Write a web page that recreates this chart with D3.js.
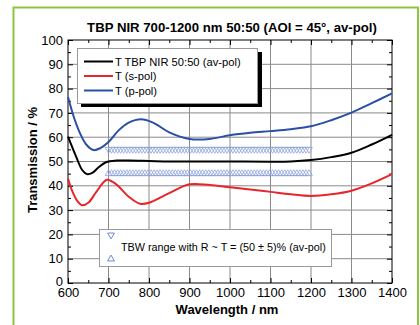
<!DOCTYPE html>
<html>
<head>
<meta charset="utf-8">
<script src="https://cdn.jsdelivr.net/npm/d3@7"></script>
<style>
  body { margin: 0; background: #fff; }
  text { font-family: "Liberation Sans", Arial, sans-serif; }
</style>
</head>
<body>
<svg width="420" height="325"></svg>
<script>
// wavelengths (nm) and transmission values (%)
const avWl  = [600, 620, 635, 647, 660, 675, 695, 720, 750, 800, 850, 900, 1000, 1100, 1150, 1200, 1250, 1300, 1350, 1400];
const avT   = [60.2, 52, 46.5, 44.8, 45.3, 47.5, 49.8, 50.4, 50.4, 50.2, 50, 50, 50, 49.9, 50, 50.6, 51.8, 53.6, 57, 61];

const sWl   = [600, 610, 622, 635, 650, 670, 696, 720, 750, 778, 800, 850, 900, 950, 1000, 1050, 1100, 1150, 1200, 1250, 1300, 1350, 1400];
const sT    = [43, 38, 34, 32, 33, 37.5, 42.5, 40.5, 35.5, 32.6, 33, 37, 40.6, 40.3, 39.4, 38.5, 37.5, 36.5, 35.8, 36.5, 38, 41, 44.8];

const pWl   = [600, 615, 630, 645, 663, 680, 700, 725, 750, 780, 810, 850, 900, 950, 1000, 1050, 1100, 1150, 1200, 1250, 1300, 1350, 1400];
const pT    = [76.5, 68, 61.5, 57, 54.7, 55.5, 58, 62.8, 66, 67.4, 66, 62, 59.3, 59.3, 60.8, 61.8, 62.5, 63.3, 64.5, 67, 70.1, 74, 78];

// TBW band: R ~ T = (50 +/- 5)% between 700 and 1200 nm
const bandRange = [700, 1200];
const bandUpper = 55;
const bandLower = 45;

const xTicks = [600, 700, 800, 900, 1000, 1100, 1200, 1300, 1400];
const yTicks = [0, 10, 20, 30, 40, 50, 60, 70, 80, 90, 100];

const legendNames = ['T TBP NIR 50:50 (av-pol)', 'T (s-pol)', 'T (p-pol)'];
const legendColors = ['#000000', '#e8252b', '#2b4ea6'];

const svg = d3.select('svg');

// outer green frame
svg.append('rect')
    .attr('x', 13.5).attr('y', 7.5)
    .attr('width', 404.5).attr('height', 340)
    .attr('fill', 'none')
    .attr('stroke', '#8cc63e')
    .attr('stroke-width', 2);

const m = {left: 68, right: 392, top: 40, bottom: 283};
const x = d3.scaleLinear().domain([600, 1400]).range([m.left, m.right]);
const y = d3.scaleLinear().domain([0, 100]).range([m.bottom, m.top]);

const g = svg.append('g');

// grid
g.selectAll('.vgrid')
    .data(xTicks.slice(1, -1))
    .enter().append('line')
    .attr('x1', d => x(d)).attr('x2', d => x(d))
    .attr('y1', m.top).attr('y2', m.bottom)
    .attr('stroke', '#8a8a8a').attr('stroke-width', 1);
g.selectAll('.hgrid')
    .data(yTicks.slice(1, -1))
    .enter().append('line')
    .attr('x1', m.left).attr('x2', m.right)
    .attr('y1', d => y(d)).attr('y2', d => y(d))
    .attr('stroke', '#8a8a8a').attr('stroke-width', 1);

// axes with inward ticks on all four sides
const xMinor = d3.range(650, 1400, 100);
const yMinor = d3.range(5, 100, 10);

function addAxis(axis, tf) {
    const a = g.append('g').attr('transform', tf).call(axis);
    a.select('.domain').remove();
    a.selectAll('line').attr('stroke', '#000');
    return a;
}
const bottom = addAxis(d3.axisBottom(x).tickValues(xTicks).tickSizeInner(-5).tickSizeOuter(0).tickFormat(d3.format('d')), `translate(0,${m.bottom})`);
bottom.selectAll('text').attr('font-size', 13).attr('fill', '#000').attr('y', 13.5).attr('dy', 0);
addAxis(d3.axisBottom(x).tickValues(xMinor).tickSize(-3).tickFormat(''), `translate(0,${m.bottom})`);
addAxis(d3.axisTop(x).tickValues(xTicks).tickSize(-5).tickFormat(''), `translate(0,${m.top})`);
addAxis(d3.axisTop(x).tickValues(xMinor).tickSize(-3).tickFormat(''), `translate(0,${m.top})`);

const left = addAxis(d3.axisLeft(y).tickValues(yTicks).tickSizeInner(-5).tickSizeOuter(0), `translate(${m.left},0)`);
left.selectAll('text').attr('font-size', 13).attr('fill', '#000').attr('x', -5)
    .attr('dy', d => d === 0 ? '0.2em' : '0.32em');
addAxis(d3.axisLeft(y).tickValues(yMinor).tickSize(-3).tickFormat(''), `translate(${m.left},0)`);
addAxis(d3.axisRight(y).tickValues(yTicks).tickSize(-5).tickFormat(''), `translate(${m.right},0)`);
addAxis(d3.axisRight(y).tickValues(yMinor).tickSize(-3).tickFormat(''), `translate(${m.right},0)`);

// plot frame
g.append('rect')
    .attr('x', m.left).attr('y', m.top)
    .attr('width', m.right - m.left).attr('height', m.bottom - m.top)
    .attr('fill', 'none').attr('stroke', '#000').attr('stroke-width', 1);

// band markers
const bandX = d3.range(bandRange[0], bandRange[1] + 0.1, 7.5);
const tri = d3.symbol().type(d3.symbolTriangle).size(20);
g.selectAll('.bandUp')
    .data(bandX)
    .enter().append('path')
    .attr('d', tri)
    .attr('transform', d => `translate(${x(d)},${y(bandUpper)}) rotate(180)`)
    .attr('fill', 'none').attr('stroke', '#8ea2da').attr('stroke-width', 0.8);
g.selectAll('.bandLow')
    .data(bandX)
    .enter().append('path')
    .attr('d', tri)
    .attr('transform', d => `translate(${x(d)},${y(bandLower)})`)
    .attr('fill', 'none').attr('stroke', '#8ea2da').attr('stroke-width', 0.8);

// curves
const line = d3.line().curve(d3.curveCatmullRom.alpha(0.5));
const series = [
    {wl: avWl, t: avT, color: legendColors[0]},
    {wl: sWl, t: sT, color: legendColors[1]},
    {wl: pWl, t: pT, color: legendColors[2]}
];
series.forEach(s => {
    g.append('path')
        .attr('d', line(s.wl.map((w, i) => [x(w), y(s.t[i])])))
        .attr('fill', 'none')
        .attr('stroke', s.color)
        .attr('stroke-width', 2);
});

// legend 1 with shadow
svg.append('rect').attr('x', 81).attr('y', 52).attr('width', 181).attr('height', 55).attr('fill', '#000');
svg.append('rect').attr('x', 77.5).attr('y', 48.5).attr('width', 180).attr('height', 55)
    .attr('fill', '#fff').attr('stroke', '#999').attr('stroke-width', 1);
legendNames.forEach((name, i) => {
    const ly = 61.5 + i * 14.5;
    svg.append('line').attr('x1', 84).attr('x2', 113).attr('y1', ly).attr('y2', ly)
        .attr('stroke', legendColors[i]).attr('stroke-width', 2);
    svg.append('text').attr('x', 115).attr('y', ly).attr('dy', '0.36em')
        .attr('font-size', 11.2).text(name);
});

// legend 2
svg.append('rect').attr('x', 99.5).attr('y', 229.5).attr('width', 232).attr('height', 37)
    .attr('fill', '#fff').attr('stroke', '#999').attr('stroke-width', 1);
svg.append('path').attr('d', tri).attr('transform', 'translate(111,235) rotate(180)')
    .attr('fill', 'none').attr('stroke', '#6f87d4').attr('stroke-width', 1);
svg.append('path').attr('d', tri).attr('transform', 'translate(111,259)')
    .attr('fill', 'none').attr('stroke', '#6f87d4').attr('stroke-width', 1);
svg.append('text').attr('x', 121).attr('y', 247).attr('dy', '0.36em')
    .attr('font-size', 10.8).text('TBW range with R ~ T = (50 ± 5)% (av-pol)');

// titles
svg.append('text').attr('x', 232).attr('y', 32).attr('text-anchor', 'middle')
    .attr('font-size', 13.2).attr('font-weight', 'bold')
    .text('TBP NIR 700-1200 nm 50:50 (AOI = 45°, av-pol)');
svg.append('text').attr('x', 227).attr('y', 314).attr('text-anchor', 'middle')
    .attr('font-size', 13).attr('font-weight', 'bold')
    .text('Wavelength / nm');
svg.append('text').attr('transform', 'translate(37,160) rotate(-90)').attr('text-anchor', 'middle')
    .attr('font-size', 13).attr('font-weight', 'bold')
    .text('Transmission / %');
</script>
</body>
</html>
